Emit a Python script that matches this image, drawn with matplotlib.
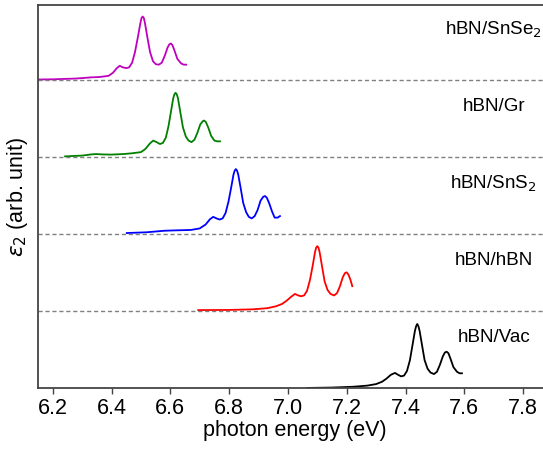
import matplotlib
matplotlib.use("Agg")
import matplotlib.pyplot as plt

plt.rcParams['font.family'] = ['Liberation Sans', 'DejaVu Sans']
plt.rcParams['mathtext.fontset'] = 'dejavusans'

# spectra (energy in eV, eps2 in arb. units)
vac_e = [7.066, 7.15, 7.22, 7.27, 7.30, 7.32, 7.335, 7.35, 7.364, 7.375, 7.385, 7.395, 7.405, 7.415,
         7.424, 7.432, 7.436, 7.44, 7.444, 7.448, 7.456, 7.465, 7.475, 7.485, 7.497, 7.507, 7.517,
         7.527, 7.534, 7.54, 7.546, 7.553, 7.563, 7.575, 7.584, 7.592]
vac_y = [0.0, 0.005, 0.015, 0.03, 0.05, 0.08, 0.12, 0.17, 0.195, 0.17, 0.15, 0.16, 0.22, 0.36,
         0.56, 0.74, 0.80, 0.83, 0.80, 0.74, 0.56, 0.36, 0.25, 0.20, 0.18, 0.21, 0.30,
         0.41, 0.46, 0.47, 0.45, 0.38, 0.27, 0.21, 0.19, 0.19]

hbn_e = [6.695, 6.80, 6.88, 6.93, 6.96, 6.98, 6.995, 7.01, 7.024, 7.035, 7.045, 7.055, 7.065, 7.075,
         7.084, 7.092, 7.096, 7.10, 7.104, 7.108, 7.116, 7.125, 7.135, 7.145, 7.157, 7.167, 7.177,
         7.187, 7.194, 7.20, 7.206, 7.213, 7.219]
hbn_y = [0.01, 0.012, 0.02, 0.035, 0.06, 0.09, 0.13, 0.18, 0.22, 0.20, 0.19, 0.20, 0.26, 0.40,
         0.58, 0.76, 0.82, 0.84, 0.82, 0.76, 0.58, 0.38, 0.27, 0.22, 0.20, 0.23, 0.32,
         0.44, 0.49, 0.50, 0.47, 0.40, 0.32]

sns2_e = [6.452, 6.52, 6.58, 6.62, 6.67, 6.70, 6.72, 6.735, 6.746, 6.757, 6.768, 6.778, 6.788, 6.798,
          6.807, 6.815, 6.819, 6.823, 6.827, 6.831, 6.839, 6.848, 6.858, 6.867, 6.877, 6.887, 6.897,
          6.907, 6.916, 6.922, 6.928, 6.936, 6.946, 6.955, 6.965, 6.973]
sns2_y = [0.01, 0.02, 0.04, 0.045, 0.05, 0.07, 0.12, 0.19, 0.22, 0.20, 0.185, 0.20, 0.27, 0.42,
          0.60, 0.77, 0.82, 0.84, 0.82, 0.77, 0.60, 0.40, 0.28, 0.22, 0.20, 0.23, 0.31,
          0.43, 0.48, 0.49, 0.47, 0.40, 0.29, 0.21, 0.21, 0.23]

gr_e = [6.242, 6.30, 6.33, 6.349, 6.37, 6.40, 6.44, 6.47, 6.50, 6.515, 6.53, 6.542, 6.553, 6.565,
        6.575, 6.585, 6.594, 6.602, 6.610, 6.614, 6.618, 6.622, 6.626, 6.634, 6.643, 6.653, 6.662,
        6.672, 6.682, 6.692, 6.702, 6.710, 6.715, 6.721, 6.729, 6.739, 6.750, 6.760, 6.769]
gr_y = [0.005, 0.015, 0.03, 0.035, 0.03, 0.028, 0.035, 0.045, 0.06, 0.10, 0.17, 0.21, 0.19, 0.165,
        0.18, 0.25, 0.40, 0.58, 0.76, 0.81, 0.83, 0.81, 0.76, 0.58, 0.38, 0.26, 0.21,
        0.19, 0.22, 0.31, 0.42, 0.46, 0.47, 0.45, 0.38, 0.27, 0.21, 0.20, 0.20]

snse2_e = [6.10, 6.20, 6.28, 6.33, 6.36, 6.39, 6.405, 6.418, 6.428, 6.439, 6.45, 6.46, 6.47, 6.48,
           6.49, 6.498, 6.502, 6.506, 6.510, 6.514, 6.522, 6.531, 6.541, 6.551, 6.561, 6.571, 6.581,
           6.591, 6.597, 6.602, 6.607, 6.614, 6.624, 6.637, 6.646, 6.654]
snse2_y = [0.0, 0.005, 0.015, 0.03, 0.035, 0.05, 0.09, 0.15, 0.18, 0.16, 0.15, 0.16, 0.22, 0.36,
           0.56, 0.73, 0.80, 0.82, 0.80, 0.73, 0.55, 0.36, 0.24, 0.20, 0.195, 0.22, 0.31,
           0.42, 0.46, 0.47, 0.45, 0.38, 0.27, 0.21, 0.195, 0.195]

labels = ['hBN/Vac', 'hBN/hBN', 'hBN/SnS$_2$', 'hBN/Gr', 'hBN/SnSe$_2$']
energies = [vac_e, hbn_e, sns2_e, gr_e, snse2_e]
spectra = [vac_y, hbn_y, sns2_y, gr_y, snse2_y]
colors = ['k', 'r', 'b', 'g', 'm']

fig = plt.figure(figsize=(5.43, 4.49), dpi=100)
ax = fig.add_axes([0.070, 0.136, 0.9475, 0.853])

for i in range(len(labels)):
    ax.plot(energies[i], [v + i for v in spectra[i]], color=colors[i], lw=1.3)
    ax.text(7.70, i + 0.65, labels[i], ha='center', va='center', fontsize=13.5)
    if i > 0:
        ax.axhline(i, color='gray', ls='--', lw=1.0, dashes=(3, 2))

ax.set_xlim(6.15, 7.9)
ax.set_ylim(0, 4.97)
ax.set_xticks([6.2, 6.4, 6.6, 6.8, 7.0, 7.2, 7.4, 7.6, 7.8])
ax.set_yticks([])
ax.tick_params(axis='x', direction='out', length=4, width=1, labelsize=15.5, color='#444444', pad=3)
for s in ['left', 'bottom', 'top']:
    ax.spines[s].set_color('#444444')
    ax.spines[s].set_linewidth(1.3)
ax.spines['right'].set_visible(False)

ax.set_xlabel('photon energy (eV)', fontsize=15.5, labelpad=1)
ax.set_ylabel(r'$\varepsilon_2$ (arb. unit)', fontsize=15.5, labelpad=6)

fig.savefig('out.png', dpi=100)
